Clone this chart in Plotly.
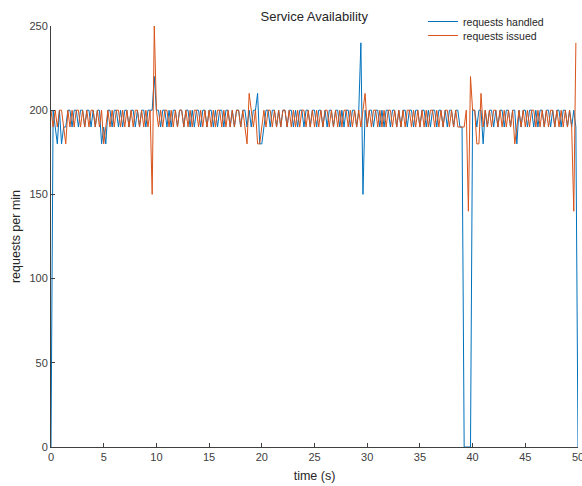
import plotly.graph_objects as go

# ---- data (sampled every 0.2 s) ----
issued_chunks = [
    [200,190,200,190,200,200,190,180,200,190,200,190,200,200,190,200,190,200,190,200,200,190,200,190,200],
    [180,190,200,190,200,190,200,200,190,200,190,200,190,200,190,200,200,190,200,190,200,190,200,150,250],
    [200,190,200,190,200,200,190,200,190,200,190,200,200,190,200,190,200,190,200,200,190,200,190,200,190],
    [200,190,200,190,200,200,190,200,190,200,190,200,190,200,200,190,200,190,180,210,200,190,200,180,180],
    [190,200,190,200,200,190,200,190,200,190,200,200,190,200,190,200,190,200,190,200,200,190,200,190,200],
    [190,200,190,200,190,200,200,190,200,190,200,190,200,190,200,200,190,200,190,200,190,200,190,200,210],
    [190,200,190,200,200,190,200,190,200,190,200,200,190,200,190,200,190,200,190,200,200,190,200,190,200],
    [190,200,190,200,190,200,200,190,200,190,200,190,200,200,190,200,190,200,190,190,190,190,200,140,220],
    [200,200,180,180,210,190,200,190,200,190,200,200,190,200,190,200,190,200,190,200,180,190,200,190,200],
    [190,200,190,200,200,190,200,190,200,190,200,190,200,200,190,200,190,200,190,200,190,200,190,140,240],
]
handled_chunks = [
    [0,200,190,180,200,180,190,190,200,200,190,200,200,190,200,200,190,200,200,190,200,190,200,200,180],
    [190,180,200,200,190,200,200,190,200,190,200,200,190,200,200,190,200,190,200,200,190,200,200,200,220],
    [200,200,190,200,200,190,200,190,200,200,190,200,200,190,200,200,190,200,190,200,200,190,200,200,190],
    [200,200,190,200,190,200,200,190,200,200,190,200,190,200,200,190,200,200,190,200,190,200,200,210,180],
    [180,190,200,200,190,200,200,190,200,190,200,200,190,200,200,190,200,190,200,200,190,200,200,190,200],
    [200,190,200,200,190,200,190,200,200,190,200,200,190,200,190,200,200,190,200,200,190,200,240,150,200],
    [190,200,200,190,200,200,190,200,190,200,200,190,200,200,190,200,190,200,200,190,200,200,190,200,200],
    [190,200,200,190,200,190,200,200,190,200,200,190,200,190,200,200,190,200,200,190,190,0,0,0,0],
    [200,200,190,200,200,180,200,190,200,200,190,200,190,200,200,190,200,200,190,200,200,180,200,190,200],
    [200,190,200,200,190,200,190,200,200,190,200,200,190,200,190,200,200,190,200,200,190,200,190,200,190,0],
]
requests_issued = [v for c in issued_chunks for v in c]
requests_handled = [v for c in handled_chunks for v in c]
sample_dt = 0.2
t_handled = [round(i * sample_dt, 1) for i in range(len(requests_handled))]
t_issued = [round(i * sample_dt, 1) for i in range(len(requests_issued))]

x_ticks = [0, 5, 10, 15, 20, 25, 30, 35, 40, 45, 50]
y_ticks = [0, 50, 100, 150, 200, 250]

FONT = "Liberation Sans, Arial, sans-serif"

fig = go.Figure()
fig.add_trace(go.Scatter(x=t_handled, y=requests_handled, mode="lines",
                         name="requests handled", legend="legend",
                         line=dict(color="#0072BD", width=1)))
fig.add_trace(go.Scatter(x=t_issued, y=requests_issued, mode="lines",
                         name="requests issued", legend="legend2",
                         line=dict(color="#D95319", width=1)))

axis_font = dict(family=FONT, size=11, color="#404040")
leg_common = dict(x=0.706, xanchor="left", yanchor="top",
                  bgcolor="rgba(0,0,0,0)", borderwidth=0,
                  font=dict(family=FONT, size=10.5, color="#262626"),
                  itemwidth=30)
fig.update_layout(
    width=582, height=486,
    margin=dict(l=51, r=4, t=26, b=39, autoexpand=False),
    paper_bgcolor="white", plot_bgcolor="white",
    title=dict(text="Service Availability", x=0.54, xanchor="center", y=0.967, yanchor="middle",
               font=dict(family=FONT, size=13, color="#262626")),
    legend=dict(y=1.0451, **leg_common),
    legend2=dict(y=1.0119, **leg_common),
    showlegend=True,
)
fig.update_xaxes(range=[0, 50], tickvals=x_ticks, showgrid=False, zeroline=False,
                 showline=True, linecolor="#404040", linewidth=1,
                 ticks="inside", ticklen=4, tickcolor="#404040",
                 tickfont=axis_font, ticklabeloverflow="allow", automargin=False,
                 title=dict(text="time (s)", font=dict(family=FONT, size=12.5, color="#262626"),
                            standoff=9))
fig.update_yaxes(range=[0, 250], tickvals=y_ticks, showgrid=False, zeroline=False,
                 showline=True, linecolor="#404040", linewidth=1,
                 ticks="inside", ticklen=4, tickcolor="#404040",
                 tickfont=axis_font, automargin=False,
                 title=dict(text="requests per min", font=dict(family=FONT, size=12.5, color="#262626"),
                            standoff=6))

fig.write_html("out.html")
